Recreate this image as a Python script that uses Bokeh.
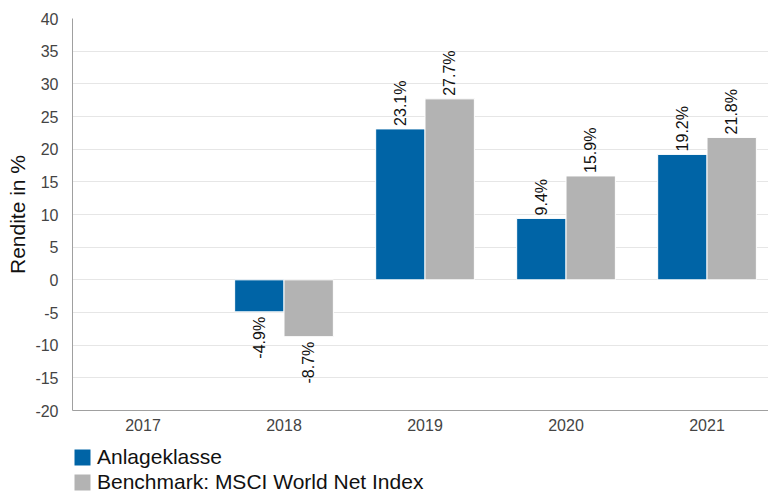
import math
from bokeh.plotting import figure
from bokeh.layouts import column
from bokeh.models import ColumnDataSource, Range1d, FixedTicker, Legend, LegendItem
from bokeh.core.properties import value
from bokeh.embed import file_html
from bokeh.resources import INLINE

categories = ["2017", "2018", "2019", "2020", "2021"]
anlage = [None, -4.9, 23.1, 9.4, 19.2]
bench = [None, -8.7, 27.7, 15.9, 21.8]
y_ticks = [-20, -15, -10, -5, 0, 5, 10, 15, 20, 25, 30, 35, 40]
series_names = ["Anlageklasse", "Benchmark: MSCI World Net Index"]
colors = ["#0064A6", "#B3B3B3"]

FONT = "Liberation Sans"
bar_w = 0.35
W = 768

p = figure(width=W, height=438, output_backend="svg", toolbar_location=None,
           x_range=Range1d(0, 4.936), y_range=Range1d(-20, 40),
           min_border_left=72, min_border_right=0, min_border_top=18,
           min_border_bottom=28)
p.outline_line_color = None

xs = [i + 0.5 for i in range(len(categories))]

renderers = []
label_x, label_y, label_t, label_neg = [], [], [], []
for k, (vals, col, off) in enumerate([(anlage, colors[0], -bar_w / 2), (bench, colors[1], bar_w / 2)]):
    bx = [x + off for x, v in zip(xs, vals) if v is not None]
    bv = [v for v in vals if v is not None]
    src = ColumnDataSource(dict(x=bx, top=bv))
    r = p.vbar(x="x", top="top", bottom=0, width=bar_w, source=src,
               fill_color=col, line_color="white", line_width=1)
    renderers.append(r)
    for x, v in zip(bx, bv):
        label_x.append(x)
        label_y.append(v)
        label_t.append(f"{v:.1f}%")
        label_neg.append(v < 0)

pos = ColumnDataSource(dict(x=[x for x, n in zip(label_x, label_neg) if not n],
                            y=[y for y, n in zip(label_y, label_neg) if not n],
                            t=[t for t, n in zip(label_t, label_neg) if not n]))
neg = ColumnDataSource(dict(x=[x for x, n in zip(label_x, label_neg) if n],
                            y=[y for y, n in zip(label_y, label_neg) if n],
                            t=[t for t, n in zip(label_t, label_neg) if n]))
p.text(x="x", y="y", text="t", source=pos, angle=math.pi / 2, text_align="left",
       text_baseline="middle", y_offset=-3, text_font=value(FONT),
       text_font_size="16px", text_color="#111111")
p.text(x="x", y="y", text="t", source=neg, angle=math.pi / 2, text_align="right",
       text_baseline="middle", y_offset=5, text_font=value(FONT),
       text_font_size="16px", text_color="#111111")

# axes
p.xaxis.ticker = FixedTicker(ticks=xs)
p.xaxis.major_label_overrides = {x: c for x, c in zip(xs, categories)}
p.yaxis.ticker = FixedTicker(ticks=y_ticks)
p.yaxis.major_label_overrides = {t: str(t) for t in y_ticks}
for ax in (p.xaxis[0], p.yaxis[0]):
    ax.major_tick_line_color = None
    ax.minor_tick_line_color = None
    ax.axis_line_color = "#A0A0A0"
    ax.major_label_text_font = FONT
    ax.major_label_text_font_size = "16px"
    ax.major_label_text_color = "#444444"
p.xaxis.major_label_standoff = 2
p.yaxis.major_label_standoff = 8
p.yaxis.axis_label = "Rendite in %"
p.yaxis.axis_label_text_font = FONT
p.yaxis.axis_label_text_font_size = "21px"
p.yaxis.axis_label_text_font_style = "normal"
p.yaxis.axis_label_text_color = "#111111"
p.yaxis.axis_label_standoff = 3

p.xgrid.grid_line_color = None
p.ygrid.grid_line_color = "#E6E6E6"
p.ygrid.ticker = FixedTicker(ticks=y_ticks)

# legend strip below the chart
q = figure(width=W, height=56, output_backend="svg", toolbar_location=None,
           x_axis_type=None, y_axis_type=None,
           x_range=Range1d(0, 1), y_range=Range1d(0, 1),
           min_border_left=0, min_border_right=0, min_border_top=0, min_border_bottom=0)
q.outline_line_color = None
leg_r = [q.vbar(x=[float("nan")], top=[float("nan")], width=0.1, fill_color=c, line_color=None)
         for c in colors]
legend = Legend(items=[LegendItem(label=n, renderers=[r]) for n, r in zip(series_names, leg_r)],
                orientation="vertical", location=(0, 0),
                glyph_width=20, glyph_height=20, label_height=20,
                label_text_font=FONT, label_text_font_size="21px",
                label_text_color="#111111", label_standoff=5,
                spacing=1, padding=0, margin=0, border_line_color=None,
                background_fill_alpha=0)
q.add_layout(legend, "center")

layout = column(p, q, spacing=0)
open("out.html", "w").write(file_html(layout, INLINE))
